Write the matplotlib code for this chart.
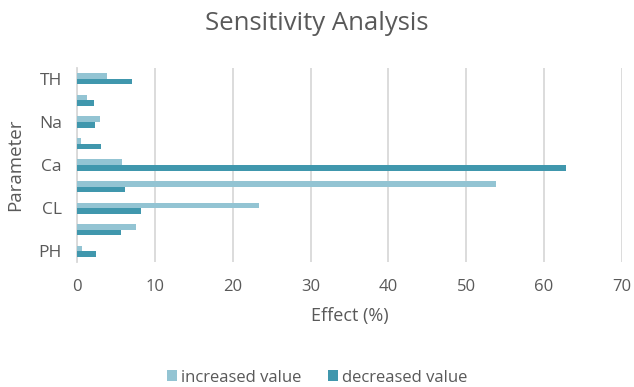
import matplotlib.pyplot as plt
import numpy as np

# Sensitivity of the model to each parameter (% effect)
categories = ["PH", "", "CL", "", "Ca", "", "Na", "", "TH"]
increased = [0.7, 7.6, 23.4, 53.8, 5.8, 0.55, 2.95, 1.3, 3.9]
decreased = [2.45, 5.6, 8.2, 6.2, 62.8, 3.1, 2.3, 2.2, 7.0]
x_ticks = [0, 10, 20, 30, 40, 50, 60, 70]

light = "#93C4D3"
dark = "#4097AD"
text_c = "#595959"
grid_c = "#D9D9D9"

plt.rcParams['font.family'] = ['Open Sans', 'DejaVu Sans']

fig = plt.figure(figsize=(6.34, 3.87), dpi=100)
ax = fig.add_axes([0.1215, 0.323, 0.8595, 0.501])

y = np.arange(len(categories))
h = 0.26
ax.barh(y + h / 2, increased, height=h, color=light, label="increased value", zorder=3)
ax.barh(y - h / 2, decreased, height=h, color=dark, label="decreased value", zorder=3)

ax.set_xlim(0, 70)
ax.set_ylim(-0.5, 8.5)
ax.set_xticks(x_ticks)
ax.set_xticklabels([str(t) for t in x_ticks])
ax.set_yticks(y[::2])
ax.set_yticklabels(categories[::2])
ax.grid(axis='x', color=grid_c, linewidth=1.3, zorder=0)
for s in ['top', 'right', 'bottom']:
    ax.spines[s].set_visible(False)
ax.spines['left'].set_color(grid_c)
ax.spines['left'].set_linewidth(1.3)
ax.tick_params(axis='x', length=0, labelsize=12, colors=text_c, pad=12)
ax.tick_params(axis='y', length=0, labelsize=12.5, colors=text_c, pad=11)

ax.set_xlabel("Effect (%)", fontsize=13, color=text_c, labelpad=9)
ax.set_ylabel("Parameter", fontsize=13.5, color=text_c, labelpad=10)
fig.suptitle("Sensitivity Analysis", fontsize=18.5, color=text_c, y=0.972)

leg = fig.legend(loc='lower center', bbox_to_anchor=(0.5, -0.035), ncol=2, frameon=False,
                 fontsize=12, handlelength=0.6, handleheight=0.6, handletextpad=0.25,
                 columnspacing=1.6)
for t in leg.get_texts():
    t.set_color(text_c)

fig.savefig("out.png", dpi=100)
